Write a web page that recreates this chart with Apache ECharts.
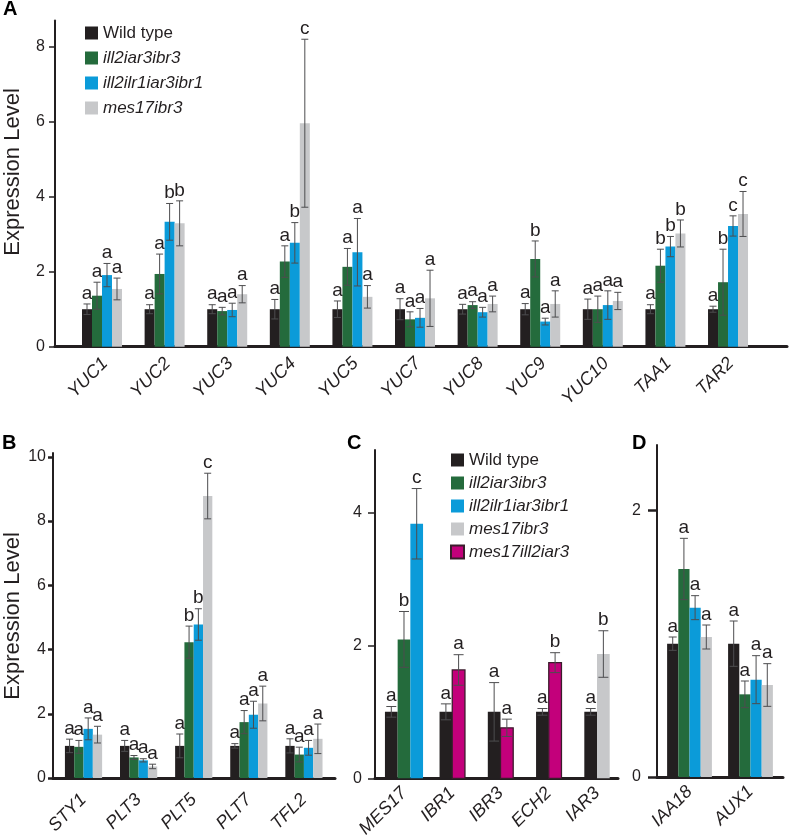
<!DOCTYPE html>
<html><head><meta charset="utf-8">
<script src="https://cdn.jsdelivr.net/npm/echarts@6/dist/echarts.min.js"></script>
<style>html,body{margin:0;padding:0;background:#fff}#c{width:789px;height:835px}</style>
</head><body><div id="c"></div>
<script>
// ---------------- data ----------------
const genotypes = ['Wild type', 'ill2iar3ibr3', 'ill2ilr1iar3ibr1', 'mes17ibr3', 'mes17ill2iar3'];

// Panel A
const catsA = ['YUC1','YUC2','YUC3','YUC4','YUC5','YUC7','YUC8','YUC9','YUC10','TAA1','TAR2'];
const wtA      = [1, 1, 1, 1, 1, 1, 1, 1, 1, 1, 1];
const wtAErr   = [0.14, 0.12, 0.12, 0.26, 0.22, 0.28, 0.13, 0.15, 0.27, 0.12, 0.08];
const dblA     = [1.36, 1.94, 0.95, 2.27, 2.13, 0.73, 1.11, 2.34, 1.00, 2.16, 1.72];
const dblAErr  = [0.36, 0.53, 0.10, 0.42, 0.49, 0.20, 0.09, 0.48, 0.35, 0.44, 0.88];
const quadA    = [1.91, 3.33, 0.98, 2.77, 2.52, 0.77, 0.92, 0.67, 1.11, 2.67, 3.22];
const quadAErr = [0.31, 0.49, 0.18, 0.54, 0.90, 0.25, 0.13, 0.09, 0.38, 0.27, 0.27];
const mesA     = [1.54, 3.29, 1.40, 5.96, 1.33, 1.29, 1.14, 1.14, 1.22, 3.02, 3.54];
const mesAErr  = [0.29, 0.60, 0.23, 2.24, 0.30, 0.75, 0.21, 0.35, 0.23, 0.36, 0.60];
const letWtA   = ['a','a','a','a','a','a','a','a','a','a','a'];
const letDblA  = ['a','a','a','a','a','a','a','b','a','b','b'];
const letQuadA = ['a','b','a','b','a','a','a','a','a','b','c'];
const letMesA  = ['a','b','a','c','a','a','a','a','a','b','c'];
const ticksA   = [0, 2, 4, 6, 8];

// Panel B
const catsB = ['STY1','PLT3','PLT5','PLT7','TFL2'];
const wtB      = [1, 1, 1, 1, 1];
const wtBErr   = [0.21, 0.17, 0.37, 0.07, 0.22];
const dblB     = [0.97, 0.64, 4.23, 1.74, 0.73];
const dblBErr  = [0.20, 0.06, 0.50, 0.36, 0.23];
const quadB    = [1.53, 0.55, 4.78, 1.97, 0.94];
const quadBErr = [0.34, 0.05, 0.49, 0.42, 0.23];
const mesB     = [1.35, 0.36, 8.78, 2.32, 1.22];
const mesBErr  = [0.26, 0.07, 0.71, 0.54, 0.46];
const letWtB   = ['a','a','a','a','a'];
const letDblB  = ['a','a','b','a','a'];
const letQuadB = ['a','a','b','a','a'];
const letMesB  = ['a','a','c','a','a'];
const ticksB   = [0, 2, 4, 6, 8, 10];

// Panel C
const catsC = ['MES17','IBR1','IBR3','ECH2','IAR3'];
const wtC        = [1, 1, 1, 1, 1];
const wtCErr     = [0.08, 0.12, 0.44, 0.05, 0.05];
const dblC       = [2.09, null, null, null, null];
const dblCErr    = [0.42, null, null, null, null];
const quadC      = [3.83, null, null, null, null];
const quadCErr   = [0.53, null, null, null, null];
const mesC       = [null, null, null, null, 1.87];
const mesCErr    = [null, null, null, null, 0.35];
const mesIllC    = [null, 1.63, 0.76, 1.74, null];
const mesIllCErr = [null, 0.23, 0.13, 0.15, null];
const letWtC     = ['a','a','a','a','a'];
const letDblC    = ['b','','','',''];
const letQuadC   = ['c','','','',''];
const letMesC    = ['','','','','b'];
const letMesIllC = ['','a','a','b',''];
const ticksC     = [0, 2, 4];

// Panel D
const catsD = ['IAA18','AUX1'];
const wtD      = [1, 1];
const wtDErr   = [0.05, 0.17];
const dblD     = [1.56, 0.62];
const dblDErr  = [0.23, 0.10];
const quadD    = [1.27, 0.73];
const quadDErr = [0.09, 0.18];
const mesD     = [1.05, 0.69];
const mesDErr  = [0.09, 0.16];
const letD     = ['a','a'];
const ticksD   = [0, 2];

// ---------------- style / layout ----------------
const FONT = "'Liberation Sans', Arial, Helvetica, sans-serif";
const INK = '#231f20';
const ERR = '#4d4d4f';
const COLORS = ['#231f20', '#246b3c', '#0b9bd9', '#c7c8ca', '#c3007b'];
const BORDERS = [null, null, null, null, '#3b1c2c'];

const panels = [
  { cats: catsA, ticks: ticksA, grid: {left: 55, right: 2, top: 20.5, bottom: 488.3},
    xr: [-0.751, 10.942], ymax: 8.7, barW: 10, capW: 7, tickW: 1.5, tickLen: 6, tickMargin: 10,
    catMargin: 14, catShift: 0.05,
    series: [
      {g: 0, v: wtA, e: wtAErr, l: letWtA},
      {g: 1, v: dblA, e: dblAErr, l: letDblA},
      {g: 2, v: quadA, e: quadAErr, l: letQuadA},
      {g: 3, v: mesA, e: mesAErr, l: letMesA}] },
  { cats: catsB, ticks: ticksB, grid: {left: 53, right: 454, top: 453, bottom: 57},
    xr: [-0.554, 4.564], ymax: 10.12, barW: 9.3, capW: 7, tickW: 2.5, tickLen: 5, tickMargin: 7,
    catMargin: 19, catShift: 0,
    series: [
      {g: 0, v: wtB, e: wtBErr, l: letWtB},
      {g: 1, v: dblB, e: dblBErr, l: letDblB},
      {g: 2, v: quadB, e: quadBErr, l: letQuadB},
      {g: 3, v: mesB, e: mesBErr, l: letMesB}] },
  { cats: catsC, ticks: ticksC, grid: {left: 375, right: 171, top: 450, bottom: 56.7},
    xr: [-0.601, 4.435], ymax: 4.94, barW: 12.7, capW: 10, tickW: 1.5, tickLen: 7, tickMargin: 13,
    catMargin: 12, catShift: 0,
    series: [
      {g: 0, v: wtC, e: wtCErr, l: letWtC},
      {g: 1, v: dblC, e: dblCErr, l: letDblC},
      {g: 2, v: quadC, e: quadCErr, l: letQuadC},
      {g: 3, v: mesC, e: mesCErr, l: letMesC},
      {g: 4, v: mesIllC, e: mesIllCErr, l: letMesIllC}] },
  { cats: catsD, ticks: ticksD, grid: {left: 657, right: 6, top: 445, bottom: 58},
    xr: [-0.533, 1.533], ymax: 2.49, barW: 11.2, capW: 8, tickW: 2.5, tickLen: 9, tickMargin: 16,
    catMargin: 12, catShift: 0,
    series: [
      {g: 0, v: wtD, e: wtDErr, l: letD},
      {g: 1, v: dblD, e: dblDErr, l: letD},
      {g: 2, v: quadD, e: quadDErr, l: letD},
      {g: 3, v: mesD, e: mesDErr, l: letD}] }
];

panels.forEach(p => {
  p.present = p.cats.map((c, i) => p.series.map((s, k) => (s.v[i] != null ? k : -1)).filter(k => k >= 0));
});

function makeRender(p, k) {
  const s = p.series[k];
  return function (params, api) {
    const i = api.value(0), v = api.value(1), e = api.value(2);
    const pres = p.present[i];
    const slot = pres.indexOf(k), n = pres.length;
    const base = api.coord([i, 0]);
    const top = api.coord([i, v]);
    const cx = base[0] + (slot - (n - 1) / 2) * p.barW;
    const yT = api.coord([i, v + e])[1];
    const yB = api.coord([i, Math.max(v - e, 0)])[1];
    const hw = p.capW / 2;
    const border = BORDERS[s.g];
    return {
      type: 'group',
      children: [
        {type: 'rect', shape: {x: cx - p.barW / 2, y: top[1], width: p.barW, height: base[1] - top[1]},
         style: {fill: COLORS[s.g], stroke: border || null, lineWidth: border ? 1.3 : 0}},
        {type: 'line', shape: {x1: cx, y1: yT, x2: cx, y2: yB}, style: {stroke: ERR, lineWidth: 1}},
        {type: 'line', shape: {x1: cx - hw, y1: yT, x2: cx + hw, y2: yT}, style: {stroke: ERR, lineWidth: 1}},
        {type: 'line', shape: {x1: cx - hw, y1: yB, x2: cx + hw, y2: yB}, style: {stroke: ERR, lineWidth: 1}},
        {type: 'text', x: cx, y: yT - 1,
         style: {text: s.l[i], fill: INK, fontSize: 19, fontFamily: FONT, align: 'center', verticalAlign: 'bottom'}}
      ]
    };
  };
}

const grids = [], xAxes = [], yAxes = [], series = [];
panels.forEach((p, pi) => {
  grids.push(Object.assign({containLabel: false, outerBoundsMode: 'none'}, p.grid));
  xAxes.push({
    gridIndex: pi, type: 'value', min: p.xr[0], max: p.xr[1],
    axisLine: {show: true, onZero: false, lineStyle: {color: INK, width: 3}},
    axisTick: {show: false}, splitLine: {show: false},
    axisLabel: {
      customValues: p.cats.map((c, i) => i + p.catShift),
      formatter: v => p.cats[Math.round(v)] || '',
      rotate: 45, fontStyle: 'italic', fontSize: 18, fontFamily: FONT, color: INK, margin: p.catMargin
    }
  });
  yAxes.push({
    gridIndex: pi, type: 'value', min: 0, max: p.ymax,
    axisLine: {show: true, onZero: false, lineStyle: {color: INK, width: 2}},
    axisTick: {show: true, inside: false, customValues: p.ticks, length: p.tickLen, lineStyle: {color: INK, width: p.tickW}},
    axisLabel: {customValues: p.ticks, fontSize: 16, fontFamily: FONT, color: INK, margin: p.tickMargin},
    splitLine: {show: false}
  });
  p.series.forEach((s, k) => {
    const data = [];
    s.v.forEach((v, i) => { if (v != null) data.push([i, v, s.e[i]]); });
    series.push({
      type: 'custom', name: genotypes[s.g], xAxisIndex: pi, yAxisIndex: pi,
      clip: false, silent: true,
      itemStyle: {color: COLORS[s.g], borderColor: BORDERS[s.g] || COLORS[s.g], borderWidth: BORDERS[s.g] ? 1.3 : 0},
      encode: {x: 0, y: 1},
      data: data,
      renderItem: makeRender(p, k)
    });
  });
});

const legendText = {
  fontSize: 17, lineHeight: 20, fontFamily: FONT, color: INK,
  rich: {i: {fontStyle: 'italic', fontSize: 17, fontFamily: FONT, color: INK}}
};
const legendFmt = name => (name === 'Wild type' ? name : '{i|' + name + '}');

const option = {
  backgroundColor: '#fff',
  animation: false,
  grid: grids, xAxis: xAxes, yAxis: yAxes, series: series,
  legend: [
    {left: 80, top: 18, orient: 'vertical', icon: 'rect', itemWidth: 13, itemHeight: 13, itemGap: 5,
     itemTextGap: 6, selectedMode: false, data: genotypes.slice(0, 4), textStyle: legendText, formatter: legendFmt},
    {left: 445, top: 445, orient: 'vertical', icon: 'rect', itemWidth: 13, itemHeight: 13, itemGap: 3,
     itemTextGap: 7, selectedMode: false, data: genotypes.slice(0, 5), textStyle: legendText, formatter: legendFmt}
  ],
  graphic: [
    {type: 'text', x: 3, y: 19, style: {text: 'A', font: 'bold 20px ' + FONT, fill: '#000', verticalAlign: 'bottom'}},
    {type: 'text', x: 2, y: 453, style: {text: 'B', font: 'bold 20px ' + FONT, fill: '#000', verticalAlign: 'bottom'}},
    {type: 'text', x: 347, y: 453, style: {text: 'C', font: 'bold 20px ' + FONT, fill: '#000', verticalAlign: 'bottom'}},
    {type: 'text', x: 632, y: 453, style: {text: 'D', font: 'bold 20px ' + FONT, fill: '#000', verticalAlign: 'bottom'}},
    {type: 'text', x: 13, y: 172, rotation: Math.PI / 2,
     style: {text: 'Expression Level', font: '22px ' + FONT, fill: INK, align: 'center', verticalAlign: 'middle'}},
    {type: 'text', x: 13, y: 616, rotation: Math.PI / 2,
     style: {text: 'Expression Level', font: '22px ' + FONT, fill: INK, align: 'center', verticalAlign: 'middle'}}
  ]
};

const chart = echarts.init(document.getElementById('c'), null, {renderer: 'canvas'});
chart.setOption(option);
</script>
</body></html>
